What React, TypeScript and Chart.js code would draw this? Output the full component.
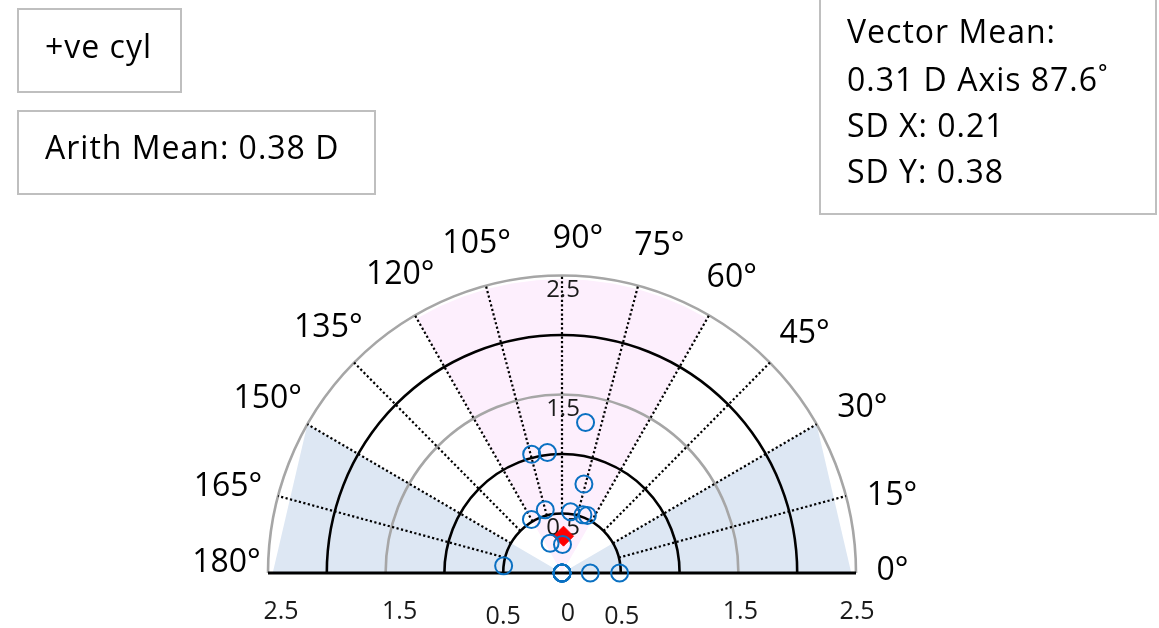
import React, { useEffect, useRef } from "react";
import { Chart, registerables } from "chart.js";

Chart.register(...registerables);

// ---- data ----
const cylMagnitudes = [1.28, 1.03, 1.02, 0.77, 0.52, 0.55, 0.52, 0.52, 0.53, 0.27, 0.24, 0.5, 0, 0, 0, 0, 0, 0, 0, 0.24, 0.49];
const cylAxes = [81, 104.5, 97, 76, 120, 105, 82, 70, 66, 112, 89, 173, 0, 0, 0, 0, 0, 0, 0, 0, 0];
const vectorMeanMagnitude = [0.31];
const vectorMeanAxis = [87.6];
const ringValues = [0.5, 1, 1.5, 2, 2.5];
const ringLabelValues = [0.5, 1.5, 2.5];
const ringLabels = ["0.5", "1.5", "2.5"];
const angleTicks = [0, 15, 30, 45, 60, 75, 90, 105, 120, 135, 150, 165, 180];
const bottomTickValues = [-2.5, -1.5, -0.5, 0, 0.5, 1.5, 2.5];
const bottomTickLabels = ["2.5", "1.5", "0.5", "0", "0.5", "1.5", "2.5"];
const withRuleSector = [60, 120];
const againstRuleSectors = [[0, 30], [150, 180]];
const boxTopLeft = ["+ve cyl"];
const boxArith = ["Arith Mean: 0.38 D"];
const boxVector = ["Vector Mean:", "0.31 D Axis 87.6˚", "SD X: 0.21", "SD Y: 0.38"];

// ---- layout / style ----
const W = 1159;
const H = 628;
const CX = 562;
const CY = 573;
const X_PER = 117.6;
const Y_PER = 119;
const FONT = "'Open Sans', Lato, sans-serif";
const ringColors = ["#000000", "#000000", "#a6a6a6", "#000000", "#a6a6a6"];
const angleNudge: Record<number, [number, number]> = {
  0: [-7, -2], 15: [4, 11], 30: [8, 6], 45: [4, 2], 60: [1, 1], 75: [10, 3], 90: [16, 7],
  105: [2, 1], 120: [7, -2], 135: [5, -4], 150: [-2, -3], 165: [-8, 2], 180: [2, -10],
};
const bottomNudge = [13, 14, 0, 6, 1, 2, 1];

const rad = (d: number) => (d * Math.PI) / 180;

const polarPlugin = {
  id: "polarGrid",
  beforeDatasetsDraw(chart: any) {
    const ctx = chart.ctx;
    const xs = chart.scales.x;
    const ys = chart.scales.y;
    const P = (r: number, d: number) => [
      xs.getPixelForValue(r * Math.cos(rad(d))),
      ys.getPixelForValue(r * Math.sin(rad(d))),
    ];
    const [cx, cy] = P(0, 0);
    ctx.save();
    // with-the-rule sector (pink)
    ctx.fillStyle = "rgb(253,239,253)";
    ctx.beginPath();
    ctx.moveTo(cx, cy);
    for (let d = withRuleSector[0]; d <= withRuleSector[1]; d += 5) {
      const [x, y] = P(2.47, d);
      ctx.lineTo(x, y);
    }
    ctx.closePath();
    ctx.fill();
    // against-the-rule sectors (blue)
    ctx.fillStyle = "rgb(221,231,243)";
    againstRuleSectors.forEach(([a, b]) => {
      const [x1, y1] = P(a === 0 ? 2.46 : 2.5, a);
      const [x2, y2] = P(b === 180 ? 2.46 : 2.5, b);
      ctx.beginPath();
      ctx.moveTo(cx, cy);
      ctx.lineTo(x1, y1);
      ctx.lineTo(x2, y2);
      ctx.closePath();
      ctx.fill();
    });
    // rings
    ringValues.forEach((v, i) => {
      const rx = xs.getPixelForValue(v) - cx;
      const ry = cy - ys.getPixelForValue(v);
      ctx.beginPath();
      ctx.ellipse(cx, cy, rx, ry, 0, Math.PI, 2 * Math.PI);
      ctx.strokeStyle = ringColors[i];
      ctx.lineWidth = 2.6;
      ctx.stroke();
    });
    // dotted spokes
    ctx.setLineDash([2.2, 2.4]);
    ctx.lineWidth = 2.2;
    ctx.strokeStyle = "#000";
    angleTicks
      .filter((d) => d > 0 && d < 180)
      .forEach((d) => {
        const [x1, y1] = P(0.5, d);
        const [x2, y2] = P(2.5, d);
        ctx.beginPath();
        ctx.moveTo(x1, y1);
        ctx.lineTo(x2, y2);
        ctx.stroke();
      });
    ctx.setLineDash([]);
    // baseline
    const [lx, ly] = P(2.5, 180);
    const [rx, ry] = P(2.5, 0);
    ctx.lineWidth = 3;
    ctx.beginPath();
    ctx.moveTo(lx, ly);
    ctx.lineTo(rx, ry);
    ctx.stroke();
    // ring labels (under the markers)
    ctx.textAlign = "center";
    ctx.textBaseline = "middle";
    ctx.fillStyle = "#1a1a1a";
    ctx.font = `24px ${FONT}`;
    ringLabelValues.forEach((v, i) => {
      ctx.fillText(ringLabels[i], cx + 1, ys.getPixelForValue(v) + 15);
    });
    ctx.restore();
  },
  afterDatasetsDraw(chart: any) {
    const ctx = chart.ctx;
    const xs = chart.scales.x;
    const ys = chart.scales.y;
    const P = (r: number, d: number) => [
      xs.getPixelForValue(r * Math.cos(rad(d))),
      ys.getPixelForValue(r * Math.sin(rad(d))),
    ];
    const [, cy] = P(0, 0);
    ctx.save();
    ctx.textAlign = "center";
    ctx.textBaseline = "middle";
    // angle labels
    ctx.fillStyle = "#000";
    ctx.font = `32px ${FONT}`;
    angleTicks.forEach((d) => {
      const [x, y] = P(2.87, d);
      const [nx, ny] = angleNudge[d] || [0, 0];
      ctx.fillText(`${d}°`, x + nx, y + ny);
    });
    // bottom tick labels
    ctx.font = `25px ${FONT}`;
    ctx.fillStyle = "#1a1a1a";
    bottomTickValues.forEach((v, i) => {
      const x = xs.getPixelForValue(v) + bottomNudge[i];
      const y = cy + (Math.abs(v) === 0.5 ? 44 : Math.abs(v) === 0 ? 41 : 39);
      ctx.fillText(bottomTickLabels[i], x, y);
    });
    ctx.restore();
  },
  afterDraw(chart: any) {
    const ctx = chart.ctx;
    ctx.save();
    ctx.strokeStyle = "#bfbfbf";
    ctx.lineWidth = 2;
    ctx.strokeRect(18, 9, 163, 83);
    ctx.strokeRect(18, 111, 357, 83);
    ctx.strokeRect(820, -3, 336, 217);
    ctx.fillStyle = "#000";
    ctx.textAlign = "left";
    ctx.textBaseline = "alphabetic";
    ctx.font = `32px ${FONT}`;
    (ctx as any).letterSpacing = "1px";
    ctx.fillText(boxTopLeft[0], 45, 58);
    ctx.fillText(boxArith[0], 45, 159);
    const baselines = [43, 91, 137, 183];
    boxVector.forEach((t, i) => ctx.fillText(t, 847, baselines[i]));
    (ctx as any).letterSpacing = "0px";
    ctx.restore();
  },
};

export default function App() {
  const ref = useRef<HTMLCanvasElement | null>(null);
  useEffect(() => {
    document.body.style.margin = "0";
    const canvas = ref.current;
    if (!canvas) return;
    const points = cylMagnitudes.map((m, i) => ({
      x: m * Math.cos(rad(cylAxes[i])),
      y: m * Math.sin(rad(cylAxes[i])),
    }));
    const mean = vectorMeanMagnitude.map((m, i) => ({
      x: m * Math.cos(rad(vectorMeanAxis[i])),
      y: m * Math.sin(rad(vectorMeanAxis[i])),
    }));
    const chart = new Chart(canvas, {
      type: "scatter",
      data: {
        datasets: [
          {
            label: "Cylinder",
            data: points,
            pointStyle: "circle",
            pointRadius: 8.5,
            pointBorderWidth: 2,
            borderColor: "#0a70c2",
            backgroundColor: "rgba(0,0,0,0)",
            pointBackgroundColor: "rgba(0,0,0,0)",
            pointBorderColor: "#0a70c2",
          },
          {
            label: "Vector mean",
            data: mean,
            pointStyle: "rectRot",
            pointRadius: 10,
            pointBorderWidth: 1,
            borderColor: "#ff0000",
            backgroundColor: "#ff0000",
            pointBackgroundColor: "#ff0000",
            pointBorderColor: "#ff0000",
          },
        ],
      },
      options: {
        animation: false,
        responsive: false,
        maintainAspectRatio: false,
        layout: { padding: 0, autoPadding: false },
        plugins: { legend: { display: false }, tooltip: { enabled: false } },
        scales: {
          x: { type: "linear", display: false, min: -CX / X_PER, max: (W - CX) / X_PER },
          y: { type: "linear", display: false, min: -(H - CY) / Y_PER, max: CY / Y_PER },
        },
      },
      plugins: [polarPlugin],
    });
    return () => chart.destroy();
  }, []);
  return (
    <div style={{ position: "relative", width: W, height: H, background: "#fff" }}>
      <canvas ref={ref} width={W} height={H} style={{ display: "block", width: W, height: H }} />
    </div>
  );
}
